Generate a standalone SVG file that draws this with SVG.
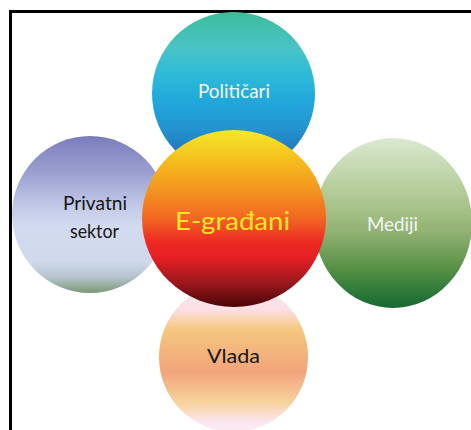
<svg xmlns="http://www.w3.org/2000/svg" width="471" height="430" viewBox="0 0 471 430">
  <defs>
    <linearGradient id="gTop" x1="0" y1="0" x2="0" y2="1">
      <stop offset="0" stop-color="#3cbd9c"/>
      <stop offset="0.22" stop-color="#4ac3c6"/>
      <stop offset="0.37" stop-color="#2fbcd8"/>
      <stop offset="0.55" stop-color="#20a7db"/>
      <stop offset="0.72" stop-color="#2493d0"/>
      <stop offset="0.88" stop-color="#2073b9"/>
      <stop offset="1" stop-color="#1d63ad"/>
    </linearGradient>
    <linearGradient id="gCenter" x1="0" y1="0" x2="0" y2="1">
      <stop offset="0" stop-color="#f4e82a"/>
      <stop offset="0.15" stop-color="#f5c31e"/>
      <stop offset="0.35" stop-color="#f39220"/>
      <stop offset="0.5" stop-color="#f26622"/>
      <stop offset="0.63" stop-color="#ee2b24"/>
      <stop offset="0.72" stop-color="#e61f25"/>
      <stop offset="0.86" stop-color="#9c181d"/>
      <stop offset="1" stop-color="#4a0507"/>
    </linearGradient>
    <linearGradient id="gLeft" x1="0" y1="0" x2="0" y2="1">
      <stop offset="0" stop-color="#7a7dbc"/>
      <stop offset="0.25" stop-color="#9ea2d2"/>
      <stop offset="0.45" stop-color="#c3cae8"/>
      <stop offset="0.58" stop-color="#d2dbef"/>
      <stop offset="0.8" stop-color="#d0d9ec"/>
      <stop offset="0.9" stop-color="#b4c3cc"/>
      <stop offset="1" stop-color="#7c9877"/>
    </linearGradient>
    <linearGradient id="gRight" x1="0" y1="0" x2="0" y2="1">
      <stop offset="0" stop-color="#dae9d0"/>
      <stop offset="0.3" stop-color="#b6cd9b"/>
      <stop offset="0.55" stop-color="#93b274"/>
      <stop offset="0.75" stop-color="#5b9348"/>
      <stop offset="0.9" stop-color="#2f7a3a"/>
      <stop offset="1" stop-color="#186832"/>
    </linearGradient>
    <linearGradient id="gBottom" x1="0" y1="0" x2="0" y2="1">
      <stop offset="0" stop-color="#fbe6ef"/>
      <stop offset="0.18" stop-color="#fbe0e6"/>
      <stop offset="0.32" stop-color="#f5c67e"/>
      <stop offset="0.6" stop-color="#f2a47b"/>
      <stop offset="0.8" stop-color="#f7d29c"/>
      <stop offset="0.93" stop-color="#fbe6ee"/>
      <stop offset="1" stop-color="#fcecf3"/>
    </linearGradient>
    <style>
      .lbl { font-family: "Lato", "Noto Sans", "DejaVu Sans", sans-serif; font-size: 20px; text-anchor: middle; }
      .dark { fill: #161616; }
      .light { fill: #f2f6f4; }
      .big { font-size: 25px; fill: #f4e52c; }
    </style>
  </defs>
  <rect x="0" y="0" width="471" height="430" fill="#ffffff"/>
  <path d="M10.5 432 V11.5 H475" fill="none" stroke="#000" stroke-width="3"/>

  <g id="node-vlada">
    <ellipse cx="233.5" cy="357" rx="74.5" ry="75" fill="url(#gBottom)"/>
    <text class="lbl dark" x="233.5" y="363" textLength="53" lengthAdjust="spacingAndGlyphs">Vlada</text>
  </g>
  <g id="node-politicari">
    <ellipse cx="233.5" cy="93.5" rx="81.5" ry="81.5" fill="url(#gTop)"/>
    <text class="lbl light" x="234" y="98" textLength="72" lengthAdjust="spacingAndGlyphs">Političari</text>
  </g>
  <g id="node-privatni">
    <ellipse cx="90" cy="214.5" rx="78" ry="78.5" fill="url(#gLeft)"/>
    <text class="lbl dark" x="95" y="210" textLength="64" lengthAdjust="spacingAndGlyphs">Privatni</text>
    <text class="lbl dark" x="94.5" y="238" textLength="49" lengthAdjust="spacingAndGlyphs">sektor</text>
  </g>
  <g id="node-mediji">
    <ellipse cx="393" cy="223" rx="79" ry="85" fill="url(#gRight)"/>
    <text class="lbl light" x="392.5" y="231" textLength="51" lengthAdjust="spacingAndGlyphs">Mediji</text>
  </g>
  <g id="node-egradani">
    <ellipse cx="234" cy="218.5" rx="92" ry="88.5" fill="url(#gCenter)"/>
    <text class="lbl big" x="232.5" y="230" textLength="115" lengthAdjust="spacingAndGlyphs">E-građani</text>
  </g>
</svg>
